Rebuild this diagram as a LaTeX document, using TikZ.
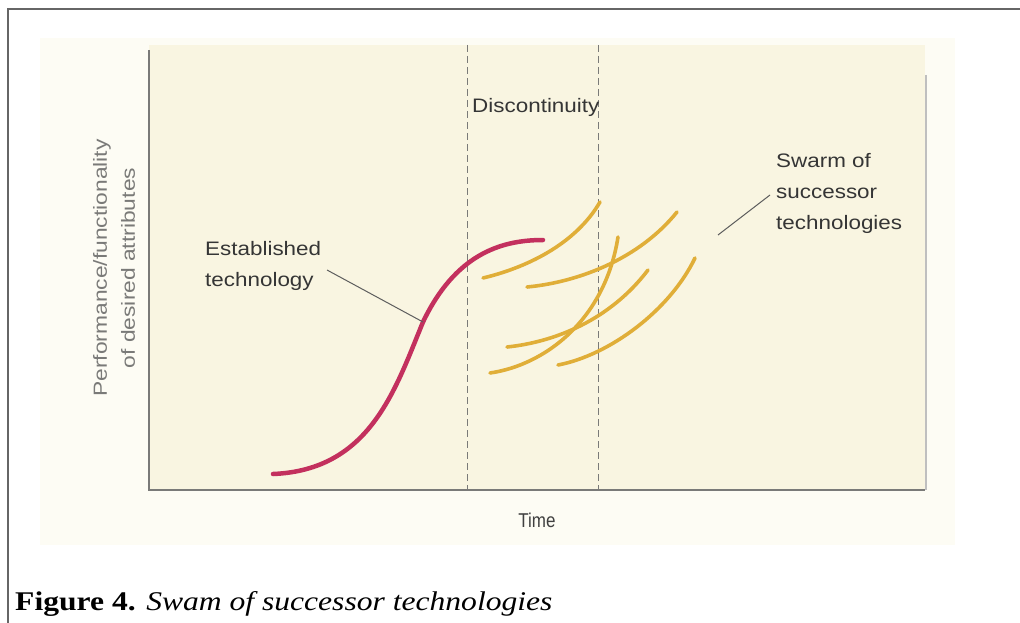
\documentclass[tikz,border=0pt]{standalone}
\usepackage{fontspec}
\setmainfont{Liberation Serif}
\setsansfont{Liberation Sans}
\definecolor{cream}{HTML}{F9F5E1}
\definecolor{paleback}{HTML}{FDFCF4}
\definecolor{estred}{HTML}{C3305E}
\definecolor{swarm}{HTML}{E0AE38}
\definecolor{labelgray}{HTML}{353535}
\definecolor{axisgray}{HTML}{7A7A78}
\tikzset{
  lbl/.style={font=\sffamily\fontsize{19.5}{31}\selectfont, text=labelgray, inner sep=0pt, align=left, xscale=1.15, transform shape},
  ylbl/.style={font=\sffamily\fontsize{19}{28}\selectfont, text=axisgray, inner sep=0pt, align=center},
  estcurve/.style={draw=estred, line width=4.5pt, line cap=round},
  succ/.style={draw=swarm, line width=3.6pt, line cap=round},
  leader/.style={draw=labelgray!80, line width=1pt},
  divider/.style={draw=axisgray, line width=0.9pt, dash pattern=on 7pt off 4pt},
  axisline/.style={draw=axisgray, line width=1.4pt},
  frameline/.style={draw=black!60, line width=1.6pt}
}
\begin{document}
\begin{tikzpicture}[x=1pt, y=-1pt]
\useasboundingbox (0,0) rectangle (1020,623);
\fill[white] (0,0) rectangle (1020,623);
% scanned page background
\fill[paleback] (40,38) rectangle (955,545);
\fill[cream] (149,45) rectangle (925,490);
\draw[black!25, line width=1.5pt] (926,75) -- (926,490);
% outer frame
\draw[frameline] (8,623) -- (8,9) -- (1020,9);
% axes
\draw[axisline] (149,50) -- (149,490) -- (925,490);
% discontinuity dividers
\draw[divider] (467,45) -- (467,490);
\draw[divider] (598,45) -- (598,490);
% established technology S-curve
\coordinate (s0) at (273,474);
\coordinate (s1) at (423,322);
\coordinate (s2) at (543,240);
\draw[estcurve] (s0) .. controls (370,470) and (395,390) .. (s1)
                     .. controls (455,255) and (500,240) .. (s2);
% swarm of successor technologies
\coordinate (a0) at (483,278); \coordinate (a1) at (600,202);
\coordinate (b0) at (527,287); \coordinate (b1) at (677,212);
\coordinate (c0) at (490,373); \coordinate (c1) at (618,237);
\coordinate (d0) at (507,347); \coordinate (d1) at (648,270);
\coordinate (e0) at (558,365); \coordinate (e1) at (695,258);
\draw[succ] (a0) .. controls (525,268) and (575,245) .. (a1);
\draw[succ] (b0) .. controls (580,282) and (640,258) .. (b1);
\draw[succ] (c0) .. controls (545,365) and (605,320) .. (c1);
\draw[succ] (d0) .. controls (555,342) and (610,320) .. (d1);
\draw[succ] (e0) .. controls (610,355) and (670,310) .. (e1);
% labels
\node[lbl, anchor=north west] (disc) at (472,98) {Discontinuity};
\node[lbl, anchor=north west] (est) at (205,241) {Established\\technology};
\node[lbl, anchor=north west] (swm) at (776,153) {Swarm of\\successor\\technologies};
\coordinate (estend) at (327,270);
\coordinate (swmend) at (770,195);
\coordinate (swmtip) at (718,235);
\draw[leader] (estend) -- (s1);
\draw[leader] (swmend) -- (swmtip);
% axis labels
\node[ylbl, rotate=90, xscale=1.2, transform shape] (ylab) at (114,268) {Performance/functionality\\of desired attributes};
\node[font=\sffamily\fontsize{20}{24}\selectfont, text=black!75, xscale=0.85, transform shape, inner sep=0pt] (time) at (537,520) {Time};
% caption
\node[anchor=base west, inner sep=0pt, font=\fontsize{27}{30}\selectfont, xscale=1.17, transform shape] (cap) at (15,610) {\textbf{Figure 4.} \textit{Swam of successor technologies}};
\end{tikzpicture}
\end{document}
